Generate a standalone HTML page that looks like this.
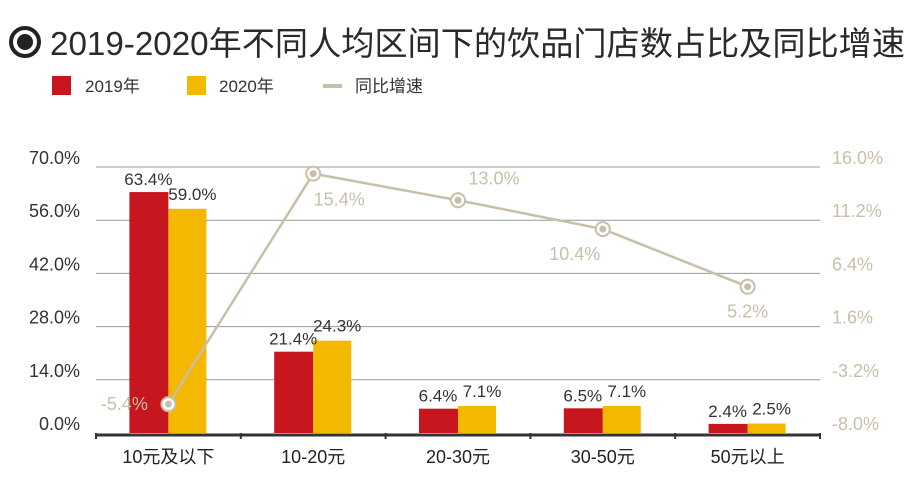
<!DOCTYPE html>
<html><head><meta charset="utf-8"><style>
body{margin:0;background:#fff;width:917px;height:482px;overflow:hidden;font-family:"Liberation Sans","Noto Sans CJK SC",sans-serif;}
</style></head><body>
<svg width="917" height="482" xmlns="http://www.w3.org/2000/svg" font-family="Liberation Sans, Noto Sans CJK SC, sans-serif">
<g>
<circle cx="25" cy="42" r="14" fill="none" stroke="#222" stroke-width="4"/>
<circle cx="25" cy="42" r="8" fill="#222"/>
<text x="50" y="55" font-size="33" fill="#2a2a2a" textLength="855" lengthAdjust="spacingAndGlyphs">2019-2020年不同人均区间下的饮品门店数占比及同比增速</text>
</g>
<g>
<rect x="52" y="76" width="19" height="19" fill="#c8161e"/>
<text x="85" y="92" font-size="17" fill="#333">2019年</text>
<rect x="187" y="76" width="19" height="19" fill="#f5b800"/>
<text x="219" y="92" font-size="17" fill="#333">2020年</text>
<rect x="323" y="84" width="19" height="4" fill="#c8bfa8"/>
<text x="355" y="92" font-size="17" fill="#333">同比增速</text>
</g>
<g id="plot"></g>
</svg>
<script>
const categories=["10元及以下","10-20元","20-30元","30-50元","50元以上"];
const v2019=[63.4,21.4,6.4,6.5,2.4];
const v2020=[59.0,24.3,7.1,7.1,2.5];
const growth=[-5.4,15.4,13.0,10.4,5.2];
const leftTicks=["0.0%","14.0%","28.0%","42.0%","56.0%","70.0%"];
const rightTicks=["-8.0%","-3.2%","1.6%","6.4%","11.2%","16.0%"];
const NS="http://www.w3.org/2000/svg";
const g=document.getElementById("plot");
const X0=96,X1=820,Y0=433,Y1=167;
const bw=(X1-X0)/categories.length;
const yL=v=>Y0-(v-0)/70*(Y0-Y1);
const yR=v=>Y0-(v+8)/24*(Y0-Y1);
const xc=i=>X0+bw*(i+0.5);
function mk(t,a){const e=document.createElementNS(NS,t);for(const k in a)e.setAttribute(k,a[k]);g.appendChild(e);return e;}
leftTicks.forEach((t,i)=>{const y=Y0-i*(Y0-Y1)/5;
 if(i>0){const l=mk("line",{x1:X0,x2:X1,y1:y,y2:y,stroke:"#999","stroke-width":1});
 
 }
 const a=mk("text",{x:80,y:y-3,"font-size":18,fill:"#333","text-anchor":"end"});a.textContent=t;
 
 
 const b=mk("text",{x:832,y:y-3,"font-size":18,fill:"#c8bfa8"});b.textContent=rightTicks[i];
 
 
});
categories.forEach((c,i)=>{
 const cx=xc(i);
 const r=mk("rect",{x:cx-39,y:yL(v2019[i]),width:39,height:Y0-yL(v2019[i]),fill:"#c8161e"});
 
 
 const y2=mk("rect",{x:cx,y:yL(v2020[i]),width:38,height:Y0-yL(v2020[i]),fill:"#f5b800"});
 
 
 const t1=mk("text",{x:cx-20,y:yL(v2019[i])-7,"font-size":17,fill:"#333","text-anchor":"middle"});t1.textContent=v2019[i].toFixed(1)+"%";
 
 
 const t2=mk("text",{x:cx+24,y:yL(v2020[i])-9,"font-size":17,fill:"#333","text-anchor":"middle"});t2.textContent=v2020[i].toFixed(1)+"%";
 
 
 const cl=mk("text",{x:cx,y:463,"font-size":18,fill:"#222","text-anchor":"middle"});cl.textContent=c;
 
 
});
const ax=mk("line",{x1:X0,x2:X1,y1:Y0+2,y2:Y0+2,stroke:"#333","stroke-width":3});


for(let i=0;i<=categories.length;i++){const tk=mk("line",{x1:X0+bw*i,x2:X0+bw*i,y1:Y0,y2:Y0+6,stroke:"#333","stroke-width":2});
 
 }
const pl=mk("polyline",{points:growth.map((v,i)=>xc(i)+","+yR(v)).join(" "),fill:"none",stroke:"#c8bfa8","stroke-width":2.5});


const off=[[-44,6],[26,32],[36,-16],[-28,31],[0,31]];
growth.forEach((v,i)=>{
 const c=mk("circle",{cx:xc(i),cy:yR(v),r:7,fill:"#fff",stroke:"#c8bfa8","stroke-width":2});
 
 
 const d=mk("circle",{cx:xc(i),cy:yR(v),r:3.5,fill:"#c8bfa8"});
 
 
 const t=mk("text",{x:xc(i)+off[i][0],y:yR(v)+off[i][1],"font-size":18,fill:"#c8bfa8","text-anchor":"middle"});t.textContent=v.toFixed(1)+"%";
 
 
});
</script>
</body></html>
